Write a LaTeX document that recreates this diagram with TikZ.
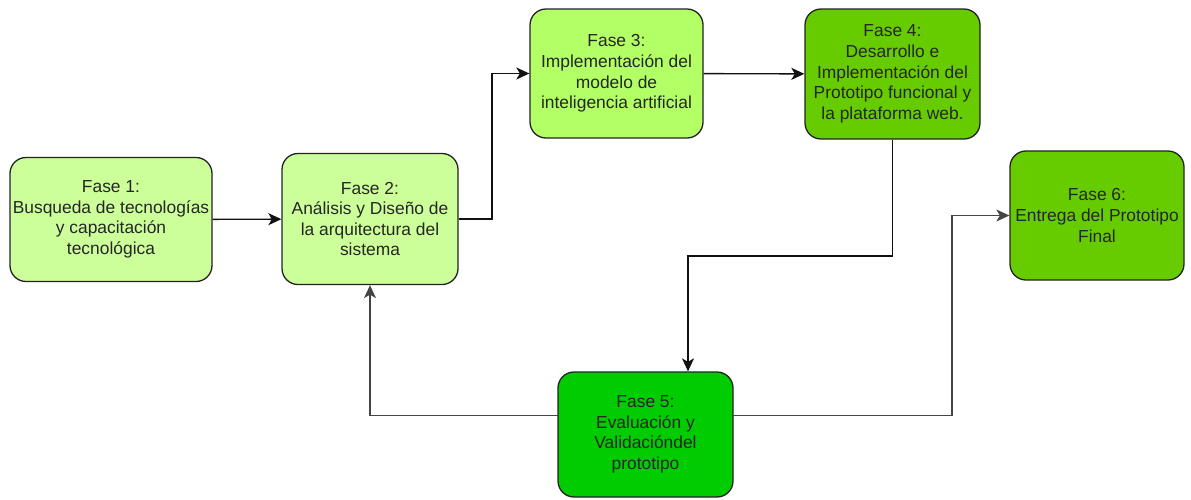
\documentclass[tikz,border=0pt]{standalone}
\usepackage{fontspec}
\setmainfont{Liberation Sans}
\usetikzlibrary{arrows.meta}
\definecolor{lightlime}{HTML}{CCFF99}
\definecolor{lime}{HTML}{B3FF66}
\definecolor{grassgreen}{HTML}{66CC00}
\definecolor{brightgreen}{HTML}{00CC00}
\definecolor{edge}{HTML}{222222}
\definecolor{wire}{HTML}{111111}
\definecolor{greywire}{HTML}{444444}
\tikzset{
  phase/.style={draw=edge, line width=1.3pt, rounded corners=16pt, align=center,
    inner sep=0pt, text=black!85,
    font=\fontsize{17.4}{20.6}\selectfont},
  arr/.style={draw=wire, line width=1.4pt,
    -{Stealth[length=13pt,width=12pt,inset=3.5pt]}},
  greyarr/.style={arr, draw=greywire}
}
\begin{document}
\begin{tikzpicture}[x=1pt,y=-1pt]
\useasboundingbox (0,0) rectangle (1191,499);

% phase boxes
\node[phase, fill=lightlime, minimum width=202pt, minimum height=124pt] (f1) at (111,219.5)
  {Fase 1:\\Busqueda de tecnologías\\y capacitación\\tecnológica};
\node[phase, fill=lightlime, minimum width=176pt, minimum height=131pt] (f2) at (370,219)
  {Fase 2:\\Análisis y Diseño de\\la arquitectura del\\sistema};
\node[phase, fill=lime, minimum width=173pt, minimum height=129pt] (f3) at (616.5,73.5)
  {Fase 3:\\Implementación del\\modelo de\\inteligencia artificial};
\node[phase, fill=grassgreen, minimum width=175pt, minimum height=130pt] (f4) at (892.5,74)
  {Fase 4:\\Desarrollo e\\Implementación del\\Prototipo funcional y\\la plataforma web.};
\node[phase, fill=brightgreen, minimum width=175pt, minimum height=125pt] (f5) at (645.5,434.5)
  {Fase 5:\\Evaluación y\\Validacióndel\\prototipo};
\node[phase, fill=grassgreen, minimum width=174pt, minimum height=129pt] (f6) at (1097,215.5)
  {Fase 6:\\Entrega del Prototipo\\Final};

% routing points
\coordinate (up23) at (492,219);
\coordinate (turn45) at (688,256);
\coordinate (out5) at (558,415.5);
\coordinate (side5) at (733,415.5);
\coordinate (turn56) at (952,415.5);

% connectors
\draw[arr] (f1) -- (f2);
\draw[arr] (f2.east) -- (up23) |- (f3.west);
\draw[arr] (f3) -- (f4);
\draw[arr] (f4.south) |- (turn45) -- (turn45 |- f5.north);
\draw[greyarr] (out5) -| (f2.south);
\draw[greyarr] (side5) -- (turn56) |- (f6.west);
\end{tikzpicture}
\end{document}
